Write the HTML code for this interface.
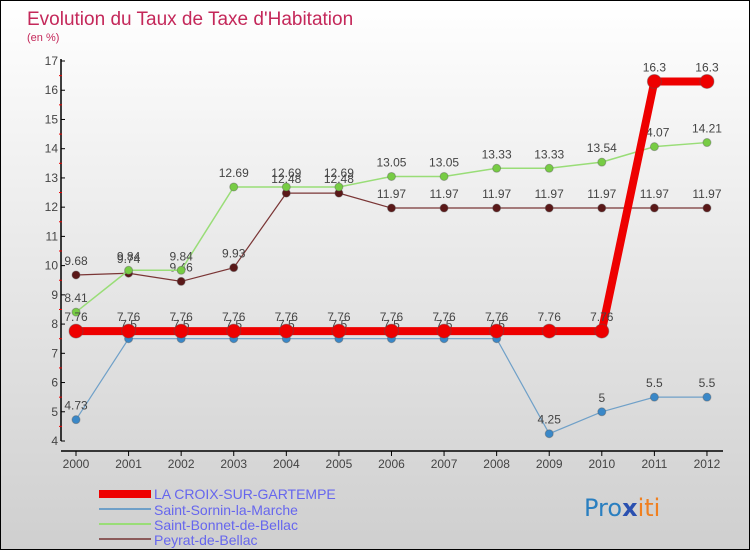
<!DOCTYPE html>
<html><head><meta charset="utf-8"><style>
html,body{margin:0;padding:0}
body{width:750px;height:550px;overflow:hidden;font-family:"Liberation Sans",sans-serif}
#wrap{position:relative;width:748px;height:548px;border:1px solid #000;background:linear-gradient(#ffffff,#cfcfcf)}
</style></head><body>
<div id="wrap">
<svg id="chart" width="748" height="548">
<text x="26" y="24" font-size="19" fill="#c4285a">Evolution du Taux de Taxe d'Habitation</text>
<text x="26" y="40" font-size="11" fill="#c4285a">(en %)</text>
<g id="axes"></g>
<g id="series"></g>
<g id="legend" font-size="14" fill="#6666ee">
<rect x="98" y="489" width="52" height="8" fill="#ee0000"/>
<text x="153" y="498" fill="#6666ee">LA CROIX-SUR-GARTEMPE</text>
<rect x="98" y="507" width="52" height="2" fill="#6fa0c8"/>
<text x="153" y="514" fill="#6666ee">Saint-Sornin-la-Marche</text>
<rect x="98" y="522" width="52" height="2" fill="#99dd77"/>
<text x="153" y="529" fill="#6666ee">Saint-Bonnet-de-Bellac</text>
<rect x="98" y="537" width="52" height="2" fill="#8b5a5a"/>
<text x="153" y="544" fill="#6666ee">Peyrat-de-Bellac</text>
</g>
<text x="583" y="515" font-size="24" font-family="'DejaVu Sans',sans-serif"><tspan fill="#2a7fc0">Pro</tspan><tspan fill="#2a50b0" font-weight="bold">x</tspan><tspan fill="#f08020">iti</tspan></text>
</svg>
</div>
<script>
const years=[2000,2001,2002,2003,2004,2005,2006,2007,2008,2009,2010,2011,2012];
const laCroix=[7.76,7.76,7.76,7.76,7.76,7.76,7.76,7.76,7.76,7.76,7.76,16.3,16.3];
const sornin=[4.73,7.5,7.5,7.5,7.5,7.5,7.5,7.5,7.5,4.25,5,5.5,5.5];
const bonnet=[8.41,9.84,9.84,12.69,12.69,12.69,13.05,13.05,13.33,13.33,13.54,14.07,14.21];
const peyrat=[9.68,9.74,9.46,9.93,12.48,12.48,11.97,11.97,11.97,11.97,11.97,11.97,11.97];
const yTicks=[4,5,6,7,8,9,10,11,12,13,14,15,16,17];
const NS="http://www.w3.org/2000/svg";
const X=i=>75+i*52.58, Y=v=>440-(v-4)*29.23;
function mk(tag,attrs,parent){const e=document.createElementNS(NS,tag);for(const k in attrs)e.setAttribute(k,attrs[k]);parent.appendChild(e);return e;}
const ax=document.getElementById('axes'), sg=document.getElementById('series');
let l=mk('line',{x1:60,y1:58,x2:60,y2:440,stroke:'#000','stroke-width':1.5},ax);


l=mk('line',{x1:60,y1:450,x2:722,y2:450,stroke:'#000','stroke-width':1.5},ax);


yTicks.forEach((t,i)=>{
  mk('line',{x1:60,y1:Y(t),x2:64,y2:Y(t),stroke:'#000'},ax);
  if(i<yTicks.length-1) mk('line',{x1:58,y1:Y(t+0.5),x2:61,y2:Y(t+0.5),stroke:'#e00'},ax);
  const tx=mk('text',{x:57,y:Y(t)+4,'text-anchor':'end','font-size':12,fill:'#444'},ax);
  tx.textContent=t;
  
  
});
years.forEach((y,i)=>{
  mk('line',{x1:X(i),y1:450,x2:X(i),y2:455,stroke:'#000'},ax);
  const tx=mk('text',{x:X(i),y:467,'text-anchor':'middle','font-size':12,fill:'#444'},ax);
  tx.textContent=y;
  
  
});
function series(vals,color,dot,lw,r,name){
  const p=mk('polyline',{points:vals.map((v,i)=>X(i)+','+Y(v)).join(' '),fill:'none',stroke:color,'stroke-width':lw},sg);
  
  
  vals.forEach((v,i)=>{
    const c=mk('circle',{cx:X(i),cy:Y(v),r:r,fill:dot,stroke:'#555','stroke-opacity':0.4},sg);
    
    
    const t=mk('text',{x:X(i),y:Y(v)-10,'text-anchor':'middle','font-size':12,fill:'#444'},sg);
    t.textContent=v;
    
    
  });
}
series(sornin,'#6fa0c8','#3a88c8',1.2,4,'saint-sornin');
series(peyrat,'#7a3535','#5a1818',1.2,4,'peyrat');
series(bonnet,'#99dd77','#77cc44',1.5,4,'saint-bonnet');
series(laCroix,'#ee0000','#ee0000',8,7,'la-croix');
</script>
</body></html>
